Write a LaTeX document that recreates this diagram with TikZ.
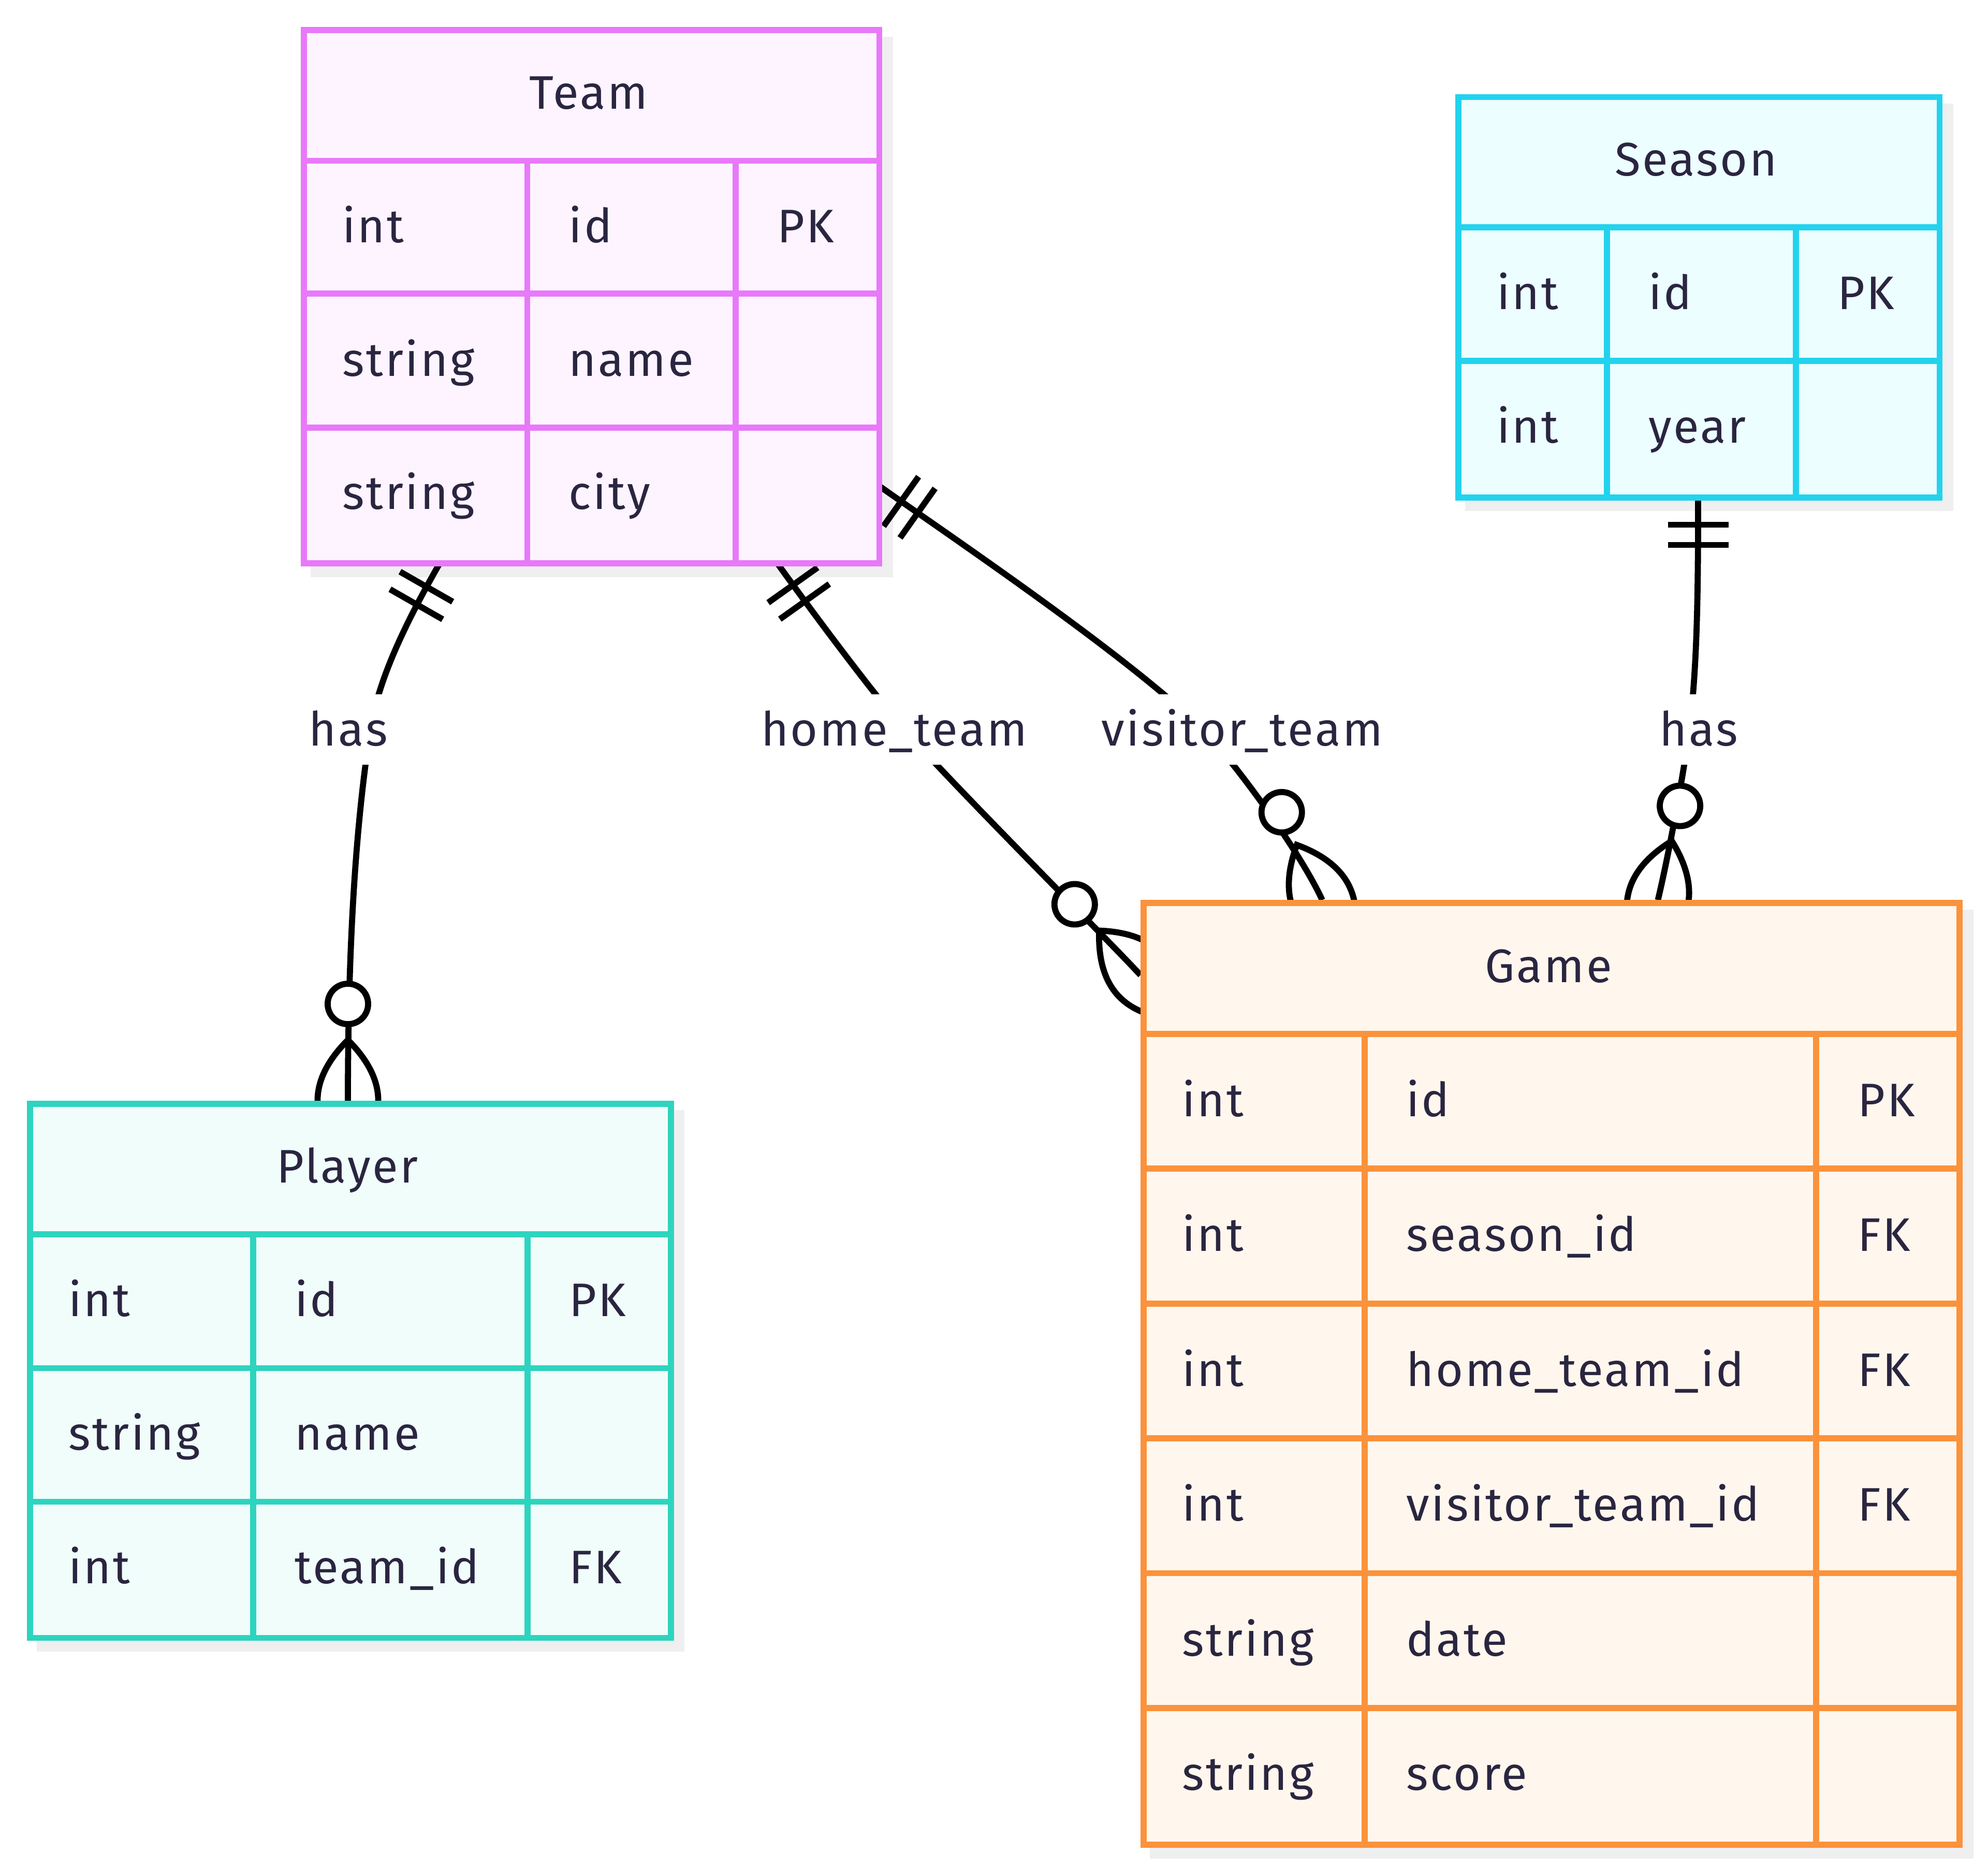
\documentclass[tikz,border=0pt]{standalone}
\usepackage{fontspec}
\setmainfont{Fira Sans}
\newfontfamily\erfont{Fira Sans}[LetterSpace=4]
\definecolor{txt}{HTML}{2A2540}
\definecolor{teamS}{HTML}{E879F9}\definecolor{teamF}{HTML}{FDF4FF}
\definecolor{seasS}{HTML}{22D3EE}\definecolor{seasF}{HTML}{ECFEFF}
\definecolor{playS}{HTML}{2DD4BF}\definecolor{playF}{HTML}{F0FDFA}
\definecolor{gameS}{HTML}{FB923C}\definecolor{gameF}{HTML}{FFF7ED}
\definecolor{shad}{HTML}{EFEFEF}
\newcommand\ertext{\erfont\fontsize{37}{40}\selectfont}
\pgfdeclarelayer{shadowlayer}
\pgfdeclarelayer{edgelayer}
\pgfsetlayers{shadowlayer,edgelayer,main}
\tikzset{
  edge/.style={draw=black, line width=4.8pt},
  boxline/.style={line width=4.8pt},
  cell/.style={anchor=base west, inner sep=0pt, text=txt, font=\ertext},
  head/.style={anchor=base, inner sep=0pt, text=txt, font=\ertext},
  lab/.style={fill=white, text=txt, font=\ertext, text height=25.5pt, text depth=0pt, inner ysep=14.75pt, inner xsep=3pt},
}
\newcommand\onlyone[2]{%
  \begin{scope}[shift={(#1)}, rotate=#2, x=1pt, y=1pt]
    \draw[edge] (23.85,-23.85) -- (23.85,23.85) (39.75,-23.85) -- (39.75,23.85);
  \end{scope}}
\newcommand\zeromany[2]{%
  \begin{scope}[shift={(#1)}, rotate=#2, x=1pt, y=1pt]
    \draw[edge] (-47.7,0) .. controls (-15.9,-31.8) and (15.9,-31.8) .. (47.7,0)
                          .. controls (15.9,31.8) and (-15.9,31.8) .. (-47.7,0);
    \draw[edge, fill=white] (76,0) circle (15.9);
  \end{scope}}
\newcommand\errow[6]{%
  \node[cell] (#1-#2-t) at (\cA+32.5,#3) {#4};
  \node[cell] (#1-#2-n) at (\cB+32.5,#3) {#5};
  \node[cell] (#1-#2-k) at (\cC+32.5,#3) {#6};}
\begin{document}
\begin{tikzpicture}[x=1pt,y=-1pt]
\useasboundingbox (0,0) rectangle (1562.9,1467.6);

% ---------------- Team
\def\cA{236.6}\def\cB{414.5}\def\cC{578.3}
\begin{pgfonlayer}{shadowlayer}
  \fill[shad] (244.1,28.8) rectangle (702.1,453.7);
\end{pgfonlayer}
\node[draw=teamS, fill=teamF, boxline, inner sep=0pt, minimum width=452.3pt, minimum height=419.2pt, anchor=north west] (team) at (236.6,21.3) {};
\draw[boxline, draw=teamS] (236.6,126.4) -- (688.9,126.4) (236.6,230.9) -- (688.9,230.9) (236.6,336.3) -- (688.9,336.3)
  (414.5,126.4) -- (414.5,440.5) (578.3,126.4) -- (578.3,440.5);
\node[head] (team-title) at (462.75,85.85) {Team};
\errow{team}{1}{190.65}{int}{id}{PK}
\errow{team}{2}{295.6}{string}{name}{}
\errow{team}{3}{400.4}{string}{city}{}

% ---------------- Season
\def\cA{1144.2}\def\cB{1263.3}\def\cC{1411.8}
\begin{pgfonlayer}{shadowlayer}
  \fill[shad] (1151.7,81.4) rectangle (1535.6,401.8);
\end{pgfonlayer}
\node[draw=seasS, fill=seasF, boxline, inner sep=0pt, minimum width=378.2pt, minimum height=314.7pt, anchor=north west] (season) at (1144.2,73.9) {};
\draw[boxline, draw=seasS] (1144.2,178.6) -- (1522.4,178.6) (1144.2,283.7) -- (1522.4,283.7)
  (1263.3,178.6) -- (1263.3,388.6) (1411.8,178.6) -- (1411.8,388.6);
\node[head] (season-title) at (1333.3,138.25) {Season};
\errow{season}{1}{243.15}{int}{id}{PK}
\errow{season}{2}{348.15}{int}{year}{}

% ---------------- Player
\def\cA{21.2}\def\cB{199.1}\def\cC{414.8}
\begin{pgfonlayer}{shadowlayer}
  \fill[shad] (28.7,872.7) rectangle (538.2,1298.3);
\end{pgfonlayer}
\node[draw=playS, fill=playF, boxline, inner sep=0pt, minimum width=503.8pt, minimum height=419.9pt, anchor=north west] (player) at (21.2,865.2) {};
\draw[boxline, draw=playS] (21.2,970.2) -- (525,970.2) (21.2,1075.5) -- (525,1075.5) (21.2,1180.5) -- (525,1180.5)
  (199.1,970.2) -- (199.1,1285.1) (414.8,970.2) -- (414.8,1285.1);
\node[head] (player-title) at (273.1,929.7) {Player};
\errow{player}{1}{1034.85}{int}{id}{PK}
\errow{player}{2}{1140}{string}{name}{}
\errow{player}{3}{1244.8}{int}{team\_id}{FK}

% ---------------- Game
\def\cA{896.6}\def\cB{1072.9}\def\cC{1427.9}
\begin{pgfonlayer}{shadowlayer}
  \fill[shad] (904.1,715) rectangle (1551.4,1461);
\end{pgfonlayer}
\node[draw=gameS, fill=gameF, boxline, inner sep=0pt, minimum width=641.6pt, minimum height=740.3pt, anchor=north west] (game) at (896.6,707.5) {};
\draw[boxline, draw=gameS] (896.6,812.7) -- (1538.2,812.7) (896.6,918.7) -- (1538.2,918.7) (896.6,1024.7) -- (1538.2,1024.7)
  (896.6,1130.6) -- (1538.2,1130.6) (896.6,1236.7) -- (1538.2,1236.7) (896.6,1342.7) -- (1538.2,1342.7)
  (1072.9,812.7) -- (1072.9,1447.8) (1427.9,812.7) -- (1427.9,1447.8);
\node[head] (game-title) at (1217.4,772.1) {Game};
\errow{game}{1}{877.7}{int}{id}{PK}
\errow{game}{2}{983.7}{int}{season\_id}{FK}
\errow{game}{3}{1089.65}{int}{home\_team\_id}{FK}
\errow{game}{4}{1195.65}{int}{visitor\_team\_id}{FK}
\errow{game}{5}{1301.7}{string}{date}{}
\errow{game}{6}{1407.25}{string}{score}{}

% ---------------- connector end points on the entity borders
\coordinate (team-p) at (347,440.5);
\coordinate (player-t) at (273.5,865.2);
\coordinate (team-h) at (609.5,440.5);
\coordinate (game-h) at (896.6,766.5);
\coordinate (team-v) at (688.9,380.4);
\coordinate (game-v) at (1039.5,707.5);
\coordinate (season-g) at (1335,388.6);
\coordinate (game-s) at (1303.4,707.5);

\begin{pgfonlayer}{edgelayer}
  \draw[edge] (team-p) .. controls (318,491) and (297,535) .. (291,575)
                       .. controls (285,615) and (273.5,700) .. (player-t);
  \draw[edge] (team-h) .. controls (632.7,473.1) and (685.6,544.4) .. (712,574.5)
                       .. controls (751.5,619.6) and (862.5,729.9) .. (game-h);
  \draw[edge] (team-v) .. controls (741.9,418) and (891,518.2) .. (947,575)
                       .. controls (968,596.3) and (1020.6,666.7) .. (game-v);
  \draw[edge] (season-g) .. controls (1335,470) and (1334.2,524.7) .. (1328,574.3)
                       .. controls (1324.3,604) and (1312.6,668.6) .. (game-s);
  \onlyone{team-p}{240.3}
  \zeromany{player-t}{90}
  \onlyone{team-h}{-54.6}
  \zeromany{game-h}{132.9}
  \onlyone{team-v}{-35.3}
  \zeromany{game-v}{114.8}
  \onlyone{season-g}{-90}
  \zeromany{game-s}{76.8}
\end{pgfonlayer}

\node[lab] (lab-p) at (273.8,573.45) {has};
\node[lab] (lab-h) at (702.9,573.45) {home\_team};
\node[lab] (lab-v) at (976.5,573.45) {visitor\_team};
\node[lab] (lab-s) at (1335.6,573.45) {has};
\end{tikzpicture}
\end{document}
